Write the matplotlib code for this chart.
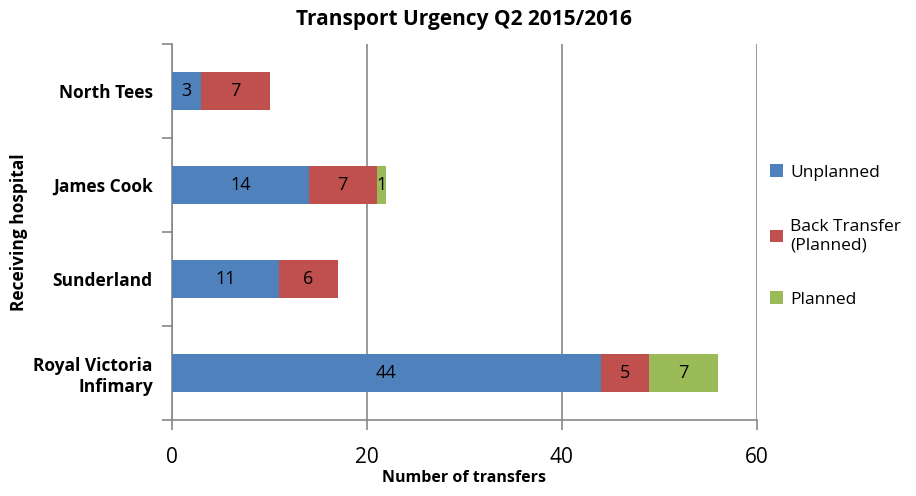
#!/usr/bin/env python3

import numpy as np
import matplotlib.pyplot as plt

plt.rcParams["font.family"] = ["Open Sans", "DejaVu Sans"]

hospitals = ["Royal Victoria\nInfimary", "Sunderland", "James Cook", "North Tees"]
unplanned = [44, 11, 14, 3]
back_transfer = [5, 6, 7, 7]
planned = [7, 0, 1, 0]

series = [
    ("Unplanned", unplanned, "#4F81BD"),
    ("Back Transfer\n(Planned)", back_transfer, "#C0504D"),
    ("Planned", planned, "#9BBB59"),
]

x_ticks = [0, 20, 40, 60]


def main():
    fig = plt.figure(figsize=(9.16, 4.96), dpi=100)
    ax = fig.add_axes([0.188, 0.153, 0.638, 0.758])

    y = np.arange(len(hospitals))
    left = np.zeros(len(hospitals))
    handles = []
    for label, values, color in series:
        vals = np.array(values, dtype=float)
        bars = ax.barh(y, vals, left=left, height=0.4, color=color, label=label, zorder=3)
        handles.append(bars)
        for yi, l, v in zip(y, left, vals):
            if v > 0:
                ax.text(l + v / 2, yi, f"{int(v)}", ha="center", va="center",
                        fontsize=13, color="black", zorder=4)
        left += vals

    ax.set_xlim(0, 60)
    ax.set_ylim(-0.5, len(hospitals) - 0.5)
    ax.set_xticks(x_ticks)
    ax.set_xticklabels([str(t) for t in x_ticks], fontsize=15)
    ax.set_yticks(y)
    ax.set_yticklabels(hospitals, fontsize=12.5, fontweight="bold")
    ax.tick_params(axis="y", length=0, pad=14)
    ax.set_yticks(np.arange(-0.5, len(hospitals)), minor=True)
    ax.tick_params(axis="y", which="minor", length=7, color="#888888", width=1.2)
    ax.tick_params(axis="x", length=7, color="#888888", width=1.2, pad=12)

    ax.grid(axis="x", color="#888888", linewidth=1.2, zorder=0)
    for side in ["top", "right"]:
        ax.spines[side].set_visible(False)
    for side in ["left", "bottom"]:
        ax.spines[side].set_color("#888888")
        ax.spines[side].set_linewidth(1.2)

    ax.set_title("Transport Urgency Q2 2015/2016", fontsize=15, fontweight="bold", pad=14)
    ax.set_xlabel("Number of transfers", fontsize=11.5, fontweight="bold", labelpad=2)
    ax.set_ylabel("Receiving hospital", fontsize=12.5, fontweight="bold", labelpad=4)

    leg = fig.legend(handles=handles, loc="upper left", bbox_to_anchor=(0.824, 0.70),
                     frameon=False, fontsize=12.5, labelspacing=2.2, handlelength=0.7,
                     handleheight=0.7, handletextpad=0.45)
    for t in leg.get_texts():
        t.set_multialignment("left")

    fig.savefig("out.png", dpi=100)
    plt.close(fig)


if __name__ == "__main__":
    main()
